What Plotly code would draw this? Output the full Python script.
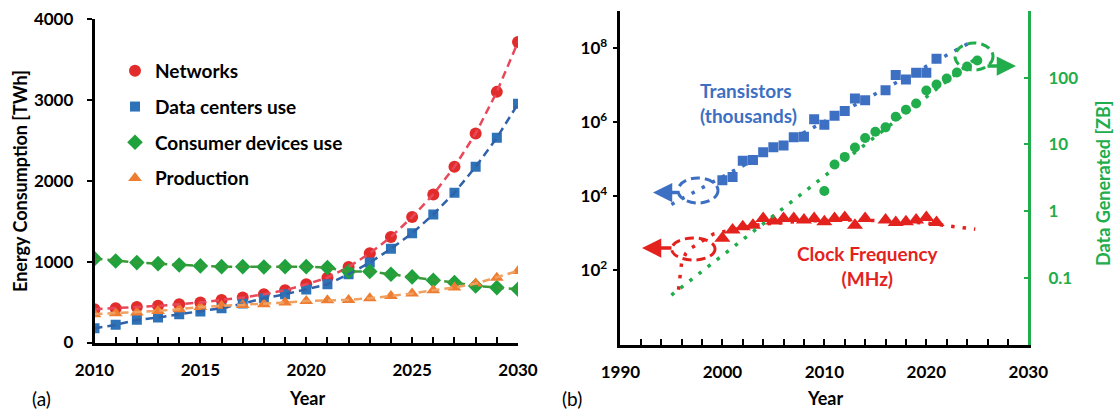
import plotly.graph_objects as go

W, H = 1117, 412


def px(x):
    return x / W


def py(y):
    return 1 - y / H


FONT = "Lato"

# ---------------- Panel (a) data ----------------
years_a = list(range(2010, 2031))
networks = [412, 424, 440, 453, 473, 494, 527, 556, 597, 646, 720, 802, 934, 1103,
            1305, 1551, 1831, 2173, 2584, 3099, 3716]
data_centers = [177, 218, 280, 309, 350, 383, 424, 481, 547, 597, 654, 720, 844, 988,
                1160, 1350, 1584, 1852, 2173, 2531, 2951]
consumer = [1037, 1008, 988, 975, 959, 947, 938, 938, 934, 938, 938, 926, 877, 877,
            844, 811, 770, 741, 700, 679, 658]
production = [350, 362, 370, 391, 412, 440, 453, 465, 473, 494, 514, 523, 527, 547,
              576, 605, 646, 679, 728, 802, 885]
series_a = ["Networks", "Data centers use", "Consumer devices use", "Production"]

# ---------------- Panel (b) data ----------------
years_tr = [2000, 2001, 2002, 2003, 2004, 2005, 2006, 2007, 2008, 2009, 2010, 2011,
            2012, 2013, 2014, 2016, 2017, 2018, 2019, 2020, 2021]
transistors_k = [26900, 33100, 91200, 95500, 155000, 209000, 234000, 389000, 407000,
                 1.2e6, 8.51e5, 1.48e6, 2.0e6, 4.37e6, 3.89e6, 7.24e6, 1.86e7, 1.41e7,
                 2.14e7, 2.14e7, 5.13e7]
clock_mhz = [741, 1230, 1510, 1660, 2510, 2140, 2510, 2510, 2290, 2510, 2040, 2510,
             2690, 1660, 2510, 2290, 1950, 2040, 2290, 2690, 1950]
years_dg = list(range(2010, 2026))
data_zb = [2, 5, 6.5, 9, 12.5, 15.5, 18, 26, 33, 41, 64.2, 79, 97, 120, 147, 181]

# trend lines
tr_trend_years = [1995, 2024.7]
tr_trend_vals = [6000, 1.62e8]
dg_trend_years = [1995, 2024.7]
dg_trend_vals = [0.055, 186]
clk_trend_years = [1995.7, 1995.8, 1996.0, 1996.4, 1996.8, 1997.5, 1998.1, 1999.1, 2001,
                   2004, 2008, 2012, 2016, 2020, 2022.2, 2023.4, 2024.8]
clk_trend_vals = [30, 50, 158, 282, 380, 501, 631, 955, 1260, 1780, 2140, 2290, 2190,
                  1905, 1585, 1445, 1290]

C_RED, C_BLUE, C_GREEN, C_ORANGE = "#e22b2b", "#2e72b8", "#1fa23c", "#ee7d31"
L_RED, L_BLUE, L_GREEN, L_ORANGE = "#e8495a", "#2f62a8", "#3a9a3a", "#f0a060"
B_BLUE, B_RED, B_GREEN = "#3d6fc2", "#e3221e", "#21ad4b"

fig = go.Figure()

vals_a = [networks, data_centers, consumer, production]
mcols = [C_RED, C_BLUE, C_GREEN, C_ORANGE]
lcols = [L_RED, L_BLUE, L_GREEN, L_ORANGE]
symbols = ["circle", "square", "diamond", "triangle-up"]
sizes = [12, 10, 12, 12]

for i in range(4):
    fig.add_trace(go.Scatter(
        x=years_a, y=vals_a[i], mode="markers", name=series_a[i],
        legendgroup=f"g{i}",
        marker=dict(symbol=symbols[i], size=sizes[i], color=mcols[i]),
        xaxis="x", yaxis="y"))
for i in range(4):
    fig.add_trace(go.Scatter(
        x=years_a, y=vals_a[i], mode="lines", showlegend=False,
        line=dict(color=lcols[i], width=2.5, dash="8px,5px"),
        xaxis="x", yaxis="y"))

# panel (b)
fig.add_trace(go.Scatter(x=tr_trend_years, y=tr_trend_vals, mode="lines", showlegend=False,
                         line=dict(color=B_BLUE, width=3.5, dash="3.5px,8px"),
                         xaxis="x2", yaxis="y2"))
fig.add_trace(go.Scatter(x=clk_trend_years, y=clk_trend_vals, mode="lines", showlegend=False,
                         line=dict(color=B_RED, width=3.5, dash="3.5px,8px"),
                         xaxis="x2", yaxis="y2"))
fig.add_trace(go.Scatter(x=years_tr, y=transistors_k, mode="markers", showlegend=False,
                         marker=dict(symbol="square", size=10, color=B_BLUE),
                         xaxis="x2", yaxis="y2"))
fig.add_trace(go.Scatter(x=years_tr, y=clock_mhz, mode="markers", showlegend=False,
                         marker=dict(symbol="triangle-up", size=14, color=B_RED),
                         xaxis="x2", yaxis="y2"))
fig.add_trace(go.Scatter(x=dg_trend_years, y=dg_trend_vals, mode="lines", showlegend=False,
                         line=dict(color=B_GREEN, width=3.5, dash="3.5px,8px"),
                         xaxis="x2", yaxis="y3"))
fig.add_trace(go.Scatter(x=years_dg, y=data_zb, mode="markers", showlegend=False,
                         marker=dict(symbol="circle", size=10, color=B_GREEN),
                         xaxis="x2", yaxis="y3"))

tickfont = dict(family=FONT, size=17, color="black", weight="bold")

fig.update_layout(
    width=W, height=H, margin=dict(l=0, r=0, t=0, b=0, pad=0, autoexpand=False),
    paper_bgcolor="white", plot_bgcolor="white",
    font=dict(family=FONT, color="black"),
    showlegend=True,
    legend=dict(x=px(115), y=py(52), xanchor="left", yanchor="top",
                font=dict(family=FONT, size=19, weight="bold", color="black"),
                bgcolor="rgba(0,0,0,0)", tracegroupgap=8, itemwidth=30),
    xaxis=dict(domain=[px(94.5), px(518)], range=[2010, 2030], anchor="y", automargin=False,
               tickvals=[2010, 2015, 2020, 2025, 2030], ticks="inside", ticklen=6,
               tickwidth=2, tickcolor="black",
               minor=dict(dtick=1, ticks="inside", ticklen=6, tickwidth=2, tickcolor="black"),
               showline=True, linecolor="black", linewidth=2.5, showgrid=False, zeroline=False,
               tickfont=tickfont, ticklabelstandoff=10),
    yaxis=dict(domain=[py(342.5), py(19)], range=[0, 4000], anchor="x", automargin=False,
               tickvals=[0, 1000, 2000, 3000, 4000], ticks="outside", ticklen=5,
               tickwidth=2, tickcolor="black",
               showline=True, linecolor="black", linewidth=2.5, showgrid=False, zeroline=False,
               tickfont=tickfont, ticklabelstandoff=10),
    xaxis2=dict(domain=[px(620.4), px(1028.3)], range=[1990, 2030], anchor="y2", automargin=False,
                tickvals=[1990, 2000, 2010, 2020, 2030], ticks="inside", ticklen=6,
                tickwidth=2, tickcolor="black",
                minor=dict(dtick=2, ticks="inside", ticklen=6, tickwidth=2, tickcolor="black"),
                showline=True, linecolor="black", linewidth=2.5, showgrid=False, zeroline=False,
                tickfont=tickfont, ticklabelstandoff=10),
    yaxis2=dict(domain=[py(344.5), py(11)], type="log", range=[0, 9], anchor="x2", automargin=False,
                tickvals=[1e2, 1e4, 1e6, 1e8],
                ticktext=["10<sup>2</sup>", "10<sup>4</sup>", "10<sup>6</sup>", "10<sup>8</sup>"],
                ticks="outside", ticklen=5, tickwidth=2, tickcolor="black",
                showline=True, linecolor="black", linewidth=2.5, showgrid=False, zeroline=False,
                tickfont=tickfont, ticklabelstandoff=2),
    yaxis3=dict(domain=[py(344.5), py(11)], type="log", range=[-2, 3], anchor="x2", automargin=False,
                overlaying="y2", side="right",
                tickvals=[0.1, 1, 10, 100], ticktext=["0.1", "1", "10", "100"],
                ticks="inside", ticklen=5, tickwidth=2, tickcolor=B_GREEN,
                showline=True, linecolor=B_GREEN, linewidth=2.5, showgrid=False, zeroline=False,
                tickfont=dict(family=FONT, size=17, color=B_GREEN, weight="bold"),
                ticklabelstandoff=14),
)

ann = []


def text(x, y, s, size=17, color="black", bold=True, angle=0, xanchor="center", align="center"):
    ann.append(dict(x=px(x), y=py(y), xref="paper", yref="paper", text=s, showarrow=False,
                    xanchor=xanchor, yanchor="middle", textangle=angle, align=align,
                    font=dict(family=FONT, size=size, color=color,
                              weight="bold" if bold else "normal")))


text(307, 398, "Year", size=18)
text(825, 398, "Year", size=18)
text(41, 398, "(a)", size=19, bold=False)
text(572, 398, "(b)", size=19, bold=False)
text(20, 181, "Energy Consumption [TWh]", size=18, angle=-90)
text(1103, 184, "Data Generated [ZB]", size=18, color=B_GREEN, angle=-90)
text(698, 102.5, "Transistors<br>(thousands)", size=19, color=B_BLUE, xanchor="left", align="left")
text(868, 265.5, "Clock Frequency<br>(MHz)", size=19, color=B_RED)


def arrow(hx, hy, tx, ty, color):
    ann.append(dict(x=px(hx), y=py(hy), xref="paper", yref="paper", text="",
                    showarrow=True, ax=tx - hx, ay=ty - hy, arrowhead=2, arrowsize=1.1,
                    arrowwidth=3.5, arrowcolor=color, standoff=0, startstandoff=0))


arrow(653, 192.5, 679, 192.5, B_BLUE)
arrow(642, 248, 673, 248, B_RED)
arrow(1016, 66, 986, 66, B_GREEN)
fig.update_layout(annotations=ann)

shapes = []
for (x0, x1, y0, y1, c) in [(678, 718, 178, 203, B_BLUE), (671.7, 715, 238, 260, B_RED),
                            (955, 993, 43, 70, B_GREEN)]:
    shapes.append(dict(type="circle", xref="paper", yref="paper",
                       x0=px(x0), x1=px(x1), y0=py(y1), y1=py(y0),
                       line=dict(color=c, width=3, dash="9px,5px")))
fig.update_layout(shapes=shapes)

fig.write_html("out.html")
